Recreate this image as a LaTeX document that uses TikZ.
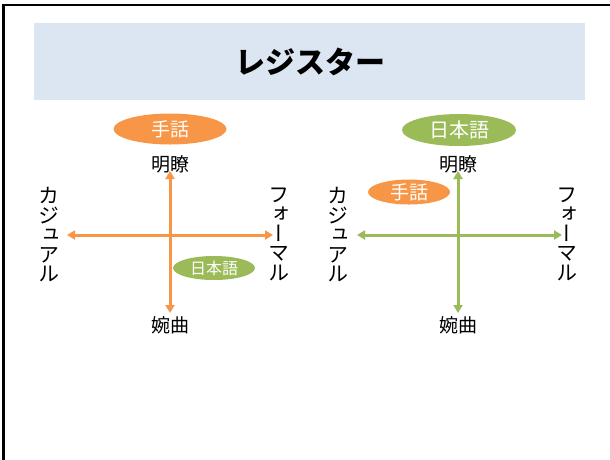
\documentclass[tikz,border=0pt]{standalone}
\usepackage{fontspec}
\newfontfamily\jp{Noto Sans CJK JP}
\newfontfamily\jpv[RawFeature=+vert]{Noto Sans CJK JP}
\usetikzlibrary{shapes.geometric,arrows.meta}
\definecolor{orng}{HTML}{F79646}
\definecolor{grn}{HTML}{9BBB59}
\definecolor{band}{HTML}{DCE6F2}
\tikzset{
  axis/.style={line width=3pt,{Triangle[width=9pt,length=8pt]}-{Triangle[width=9pt,length=8pt]}},
  lbl/.style={font=\jp\fontsize{19}{19}\selectfont,inner sep=0pt},
  vlbl/.style={font=\jpv\fontsize{21}{19.5}\selectfont,inner sep=0pt,align=center},
  oval/.style={ellipse,inner sep=0pt,text=white,draw=none},
}
\begin{document}
\begin{tikzpicture}[x=1pt,y=-1pt]
\useasboundingbox (0,0) rectangle (610,459);
% slide frame
\draw[line width=2.4pt] (3.5,470) -- (3.5,5) -- (620,5);
% title band
\node[fill=band,minimum width=551,minimum height=77,inner sep=0pt,anchor=north west] (band) at (34,23) {};
\node[font=\jp\bfseries\fontsize{30}{30}\selectfont,inner sep=0pt] (title) at (310,62) {レジスター};

% ---- left chart ----
\coordinate (L1) at (170,171);
\coordinate (L2) at (170,313);
\coordinate (L3) at (67,235);
\coordinate (L4) at (273,235);
\draw[axis,orng] (L1) -- (L2);
\draw[axis,orng] (L3) -- (L4);
\node[lbl] (lm) at (170,164) {明瞭};
\node[lbl] (le) at (170,325) {婉曲};
\node[vlbl] (lc) at (49,235) {カ\\ジ\\ュ\\ア\\ル};
\node[vlbl] (lf) at (279,234) {フ\\ォ\\ー\\マ\\ル};
\node[oval,fill=orng,minimum width=113,minimum height=31,font=\jp\fontsize{19}{19}\selectfont] (ls) at (170,129) {手話};
\node[oval,fill=grn,minimum width=82,minimum height=24,font=\jp\fontsize{16}{16}\selectfont] (lj) at (214,268) {日本語};

% ---- right chart ----
\coordinate (R1) at (458,171);
\coordinate (R2) at (458,313);
\coordinate (R3) at (357,235);
\coordinate (R4) at (562,235);
\draw[axis,grn] (R1) -- (R2);
\draw[axis,grn] (R3) -- (R4);
\node[lbl] (rm) at (458,164) {明瞭};
\node[lbl] (re) at (458,325) {婉曲};
\node[vlbl] (rc) at (338,235) {カ\\ジ\\ュ\\ア\\ル};
\node[vlbl] (rf) at (567,234) {フ\\ォ\\ー\\マ\\ル};
\node[oval,fill=grn,minimum width=114,minimum height=32,font=\jp\fontsize{20}{20}\selectfont] (rj) at (459,130) {日本語};
\node[oval,fill=orng,minimum width=82,minimum height=25,font=\jp\fontsize{19}{19}\selectfont] (rs) at (409,192) {手話};
\end{tikzpicture}
\end{document}
